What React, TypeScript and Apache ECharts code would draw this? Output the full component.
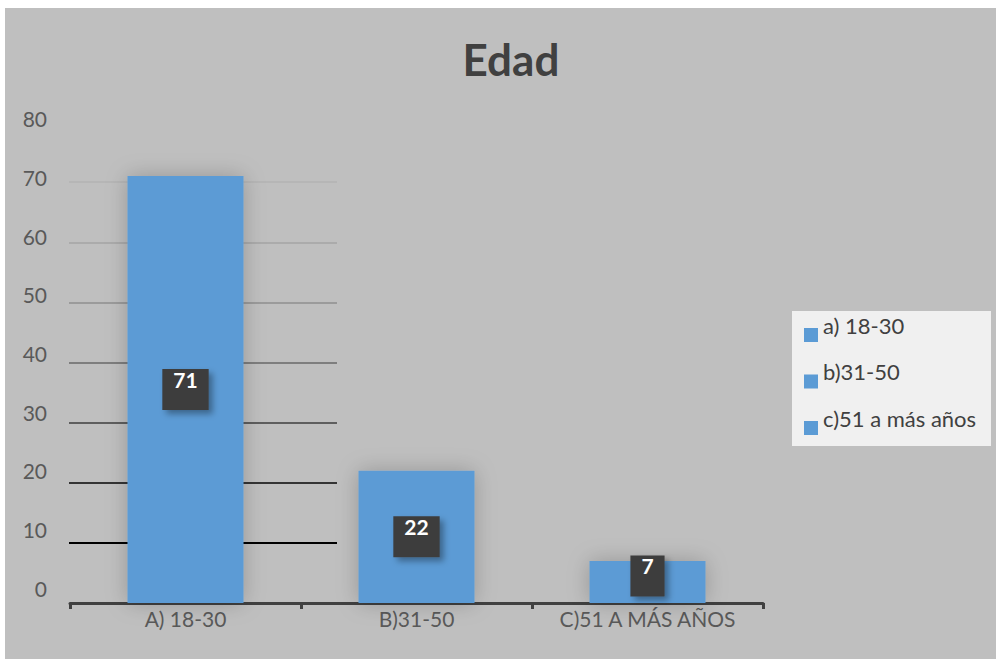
import React, { useEffect, useRef } from "react";
import * as echarts from "echarts";

// Age groups and respondent counts
const categories = ["A) 18-30", "B)31-50", "C)51 A MÁS AÑOS"];
const legendNames = ["a) 18-30", "b)31-50", "c)51 a más años"];
const counts = [71, 22, 7];
const yTicks = { min: 0, max: 80, step: 10 };

const FONT = "Lato, 'Noto Sans', sans-serif";
const BAR_BLUE = "#5b9bd5";
const TEXT_GRAY = "#595959";

// Horizontal guide lines darken toward the baseline (values 0..80)
const guideColors = [
  "rgba(0,0,0,0)",
  "#000000",
  "#343434",
  "#5e5e5e",
  "#7e7e7e",
  "#9b9b9b",
  "#ababab",
  "#b6b6b6",
  "rgba(0,0,0,0)",
];

export default function App() {
  const ref = useRef<HTMLDivElement>(null);

  useEffect(() => {
    document.body.style.margin = "0";
    const chart = echarts.init(ref.current!, undefined, { renderer: "svg" });

    // one series per group so every group gets a legend entry; stacked to keep bars centred
    const series: any[] = counts.map((v, i) => ({
      type: "bar",
      name: legendNames[i],
      stack: "edad",
      xAxisIndex: 0,
      yAxisIndex: 0,
      barWidth: 116,
      z: 3,
      itemStyle: {
        color: BAR_BLUE,
        shadowBlur: 22,
        shadowColor: "rgba(0,0,0,0.22)",
      },
      label: {
        show: true,
        position: "inside",
        // value sits in the upper half of the dark tag
        formatter: "{c}\n ",
        color: "#ffffff",
        fontFamily: FONT,
        fontWeight: "bold",
        fontSize: 21,
        lineHeight: 20,
        backgroundColor: "#3d3d3d",
        padding: [1, 11, 0, 11],
        shadowBlur: 6,
        shadowOffsetX: 4,
        shadowOffsetY: 4,
        shadowColor: "rgba(0,0,0,0.35)",
        offset: v < 10 ? [0, -6] : [0, 0],
      },
      data: counts.map((c, j) => (j === i ? c : "-")),
    }));

    chart.setOption({
      animation: false,
      backgroundColor: "#ffffff",
      title: {
        text: "Edad",
        left: 506,
        top: 32,
        textAlign: "center",
        textStyle: {
          fontFamily: FONT,
          fontWeight: "bold",
          fontSize: 44,
          color: "#404040",
        },
      },
      graphic: [
        {
          type: "rect",
          z: -10,
          shape: { x: 5, y: 8, width: 991, height: 651 },
          style: { fill: "#bfbfbf" },
          silent: true,
        },
        {
          type: "rect",
          z: -5,
          shape: { x: 792, y: 311, width: 199, height: 135 },
          style: { fill: "#f0f0f0" },
          silent: true,
        },
      ],
      legend: {
        orient: "vertical",
        left: 804,
        top: 314,
        padding: 0,
        itemGap: 4.5,
        itemWidth: 14,
        itemHeight: 14,
        icon: "rect",
        data: legendNames,
        selectedMode: false,
        // the empty second line lifts each name above its marker
        formatter: (name: string) => name + "\n ",
        textStyle: {
          fontFamily: FONT,
          fontSize: 22,
          color: "#404040",
          lineHeight: 20,
        },
      },
      grid: [
        { left: 70, right: 233, top: 122, bottom: 56 },
        { left: 69, width: 268, top: 122, bottom: 56 },
        { left: 70, right: 233, top: 118.6, bottom: 70.7 },
      ],
      xAxis: [
        {
          type: "category",
          gridIndex: 0,
          data: categories,
          axisLine: { lineStyle: { color: "#404040", width: 3 } },
          axisTick: { show: true, length: 6, lineStyle: { color: "#404040", width: 3 } },
          axisLabel: {
            interval: 0,
            color: TEXT_GRAY,
            fontFamily: FONT,
            fontSize: 21,
            margin: 5,
          },
        },
        { type: "value", gridIndex: 1, show: false, min: 0, max: 1 },
        { type: "value", gridIndex: 2, show: false, min: 0, max: 1 },
      ],
      yAxis: [
        {
          type: "value",
          gridIndex: 0,
          min: yTicks.min,
          max: yTicks.max,
          interval: yTicks.step,
          show: false,
        },
        {
          type: "value",
          gridIndex: 1,
          min: yTicks.min,
          max: yTicks.max,
          interval: yTicks.step,
          axisLine: { show: false },
          axisTick: { show: false },
          axisLabel: { show: false },
          splitLine: { show: true, lineStyle: { color: guideColors, width: 2 } },
        },
        {
          type: "value",
          gridIndex: 2,
          min: yTicks.min,
          max: yTicks.max,
          interval: yTicks.step,
          axisLine: { show: false },
          axisTick: { show: false },
          splitLine: { show: false },
          axisLabel: {
            color: TEXT_GRAY,
            fontFamily: FONT,
            fontSize: 21,
            margin: 23,
          },
        },
      ],
      series,
    });

    return () => chart.dispose();
  }, []);

  return <div ref={ref} style={{ width: 996, height: 659 }} />;
}
